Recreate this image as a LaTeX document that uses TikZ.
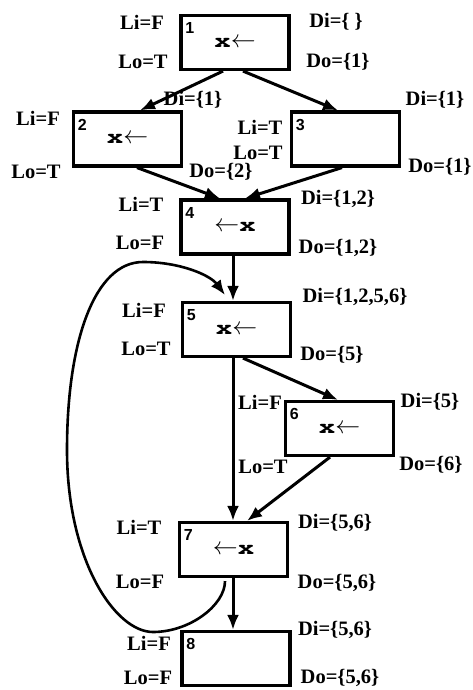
\documentclass[tikz,border=0pt]{standalone}
\usepackage{fontspec}
\setmainfont{Liberation Serif}
\newfontfamily\numfont{Liberation Sans}
\usetikzlibrary{arrows.meta,calc}
\begin{document}
\begin{tikzpicture}[x=1pt,y=-1pt,
  box/.style={draw, line width=3.2pt, rectangle, minimum width=108pt, minimum height=54pt, inner sep=0pt,
              font=\fontsize{20}{24}\selectfont},
  lab/.style={font=\bfseries\fontsize{20.5}{24}\selectfont, inner sep=0pt},
  num/.style={font=\numfont\bfseries\fontsize{16}{18}\selectfont, inner sep=0pt},
  arr/.style={line width=3pt, -{Latex[length=15pt,width=12pt]}},
  loop/.style={line width=2.6pt, -{Latex[length=15pt,width=12pt]}}]
\useasboundingbox (0,0) rectangle (473,690);
\newcommand{\xvar}{\scalebox{1.3}[1]{\fontsize{21}{24}\usefont{OT1}{pcr}{b}{n}x}}
\newcommand{\larr}{{\fontsize{26}{28}\selectfont$\leftarrow$}}
\newcommand{\asg}{\xvar\larr}
\newcommand{\use}{\larr\xvar}
% boxes
\node[box] (b1) at (235,42.5) {\asg};
\node[box] (b2) at (127.5,139) {\asg};
\node[box] (b3) at (345.5,139) {};
\node[box] (b4) at (235,227) {\use};
\node[box] (b5) at (236.5,329.5) {\asg};
\node[box] (b6) at (339.5,428.5) {\asg};
\node[box] (b7) at (233.5,549.5) {\use};
\node[box] (b8) at (236,658.5) {};
% numbers
\foreach \b/\n in {b1/1,b2/2,b3/3,b4/4,b5/5,b6/6,b7/7,b8/8}
  \node[num] (n\n) at ($(\b.north west)+(10.5,14.5)$) {\n};
% edges
\draw[arr] ([xshift=-12pt]b1.south) -- ([xshift=12.5pt]b2.north);
\draw[arr] ([xshift=8pt]b1.south) -- ([xshift=-7.5pt]b3.north);
\draw[arr] ([xshift=9.5pt]b2.south) -- ([xshift=-15pt]b4.north);
\draw[arr] ([xshift=-3.5pt]b3.south) -- ([xshift=10pt]b4.north);
\draw[arr] ([xshift=-2pt]b4.south) -- ([xshift=-3.5pt]b5.north);
\draw[arr] ([xshift=6.5pt]b5.south) -- ([xshift=-1.5pt]b6.north);
\draw[arr] ([xshift=-3.5pt]b5.south) -- ([xshift=-0.5pt]b7.north);
\draw[arr] ([xshift=-9.5pt]b6.south) -- ([xshift=13.5pt]b7.north);
\draw[arr] ([xshift=-0.5pt]b7.south) -- ([xshift=-3pt]b8.north);
\coordinate (lb) at (153,632);
\coordinate (ll) at (67,450);
\coordinate (lt) at (143,262);
\coordinate (le) at (225,295);
\draw[loop] ([xshift=-8.5pt,yshift=-3pt]b7.south) .. controls (225,605) and (190,632) .. (lb)
  .. controls (115,632) and (67,560) .. (ll)
  .. controls (67,340) and (95,262) .. (lt)
  .. controls (180,262) and (210,275) .. (le);
% labels
\node[lab] (l1a) at (142,22) {Li=F};
\node[lab] (l1b) at (143,62) {Lo=T};
\node[lab] (l1c) at (336,22) {Di=\{\ \}};
\node[lab] (l1d) at (338,62) {Do=\{1\}};
\node[lab] (l2c) at (193,100) {Di=\{1\}};
\node[lab] (l2a) at (38,118) {Li=F};
\node[lab] (l2b) at (36,172) {Lo=T};
\node[lab] (l2d) at (221,172) {Do=\{2\}};
\node[lab] (l3c) at (435,100) {Di=\{1\}};
\node[lab] (l3a) at (260,127) {Li=T};
\node[lab] (l3b) at (258,153) {Lo=T};
\node[lab] (l3d) at (440,167) {Do=\{1\}};
\node[lab] (l4a) at (141,204) {Li=T};
\node[lab] (l4c) at (338,199) {Di=\{1,2\}};
\node[lab] (l4b) at (140,243) {Lo=F};
\node[lab] (l4d) at (338,248) {Do=\{1,2\}};
\node[lab] (l5c) at (355,297) {Di=\{1,2,5,6\}};
\node[lab] (l5a) at (144,310) {Li=F};
\node[lab] (l5b) at (146,349) {Lo=T};
\node[lab] (l5d) at (332,355) {Do=\{5\}};
\node[lab] (l6a) at (260,402) {Li=F};
\node[lab] (l6c) at (430,402) {Di=\{5\}};
\node[lab] (l6b) at (263,467) {Lo=T};
\node[lab] (l6d) at (431,465) {Do=\{6\}};
\node[lab] (l7a) at (139,527) {Li=T};
\node[lab] (l7c) at (335,523) {Di=\{5,6\}};
\node[lab] (l7b) at (140,582) {Lo=F};
\node[lab] (l7d) at (337,583) {Do=\{5,6\}};
\node[lab] (l8c) at (335,630) {Di=\{5,6\}};
\node[lab] (l8a) at (149,643) {Li=F};
\node[lab] (l8b) at (148,678) {Lo=F};
\node[lab] (l8d) at (340,678) {Do=\{5,6\}};
\end{tikzpicture}
\end{document}
